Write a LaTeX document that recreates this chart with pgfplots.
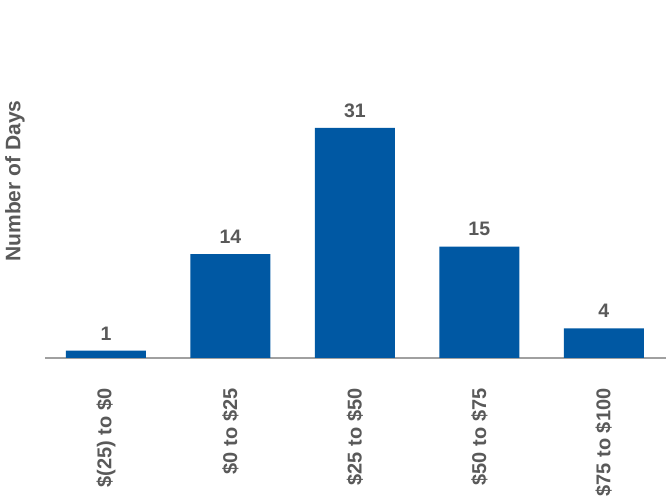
\documentclass[border=0pt]{standalone}
\usepackage{pgfplots}
\pgfplotsset{compat=1.18}
\usepackage{fontspec}
\setmainfont{Liberation Sans}
\definecolor{barblue}{RGB}{0,88,163}
\definecolor{txtgrey}{RGB}{89,89,89}
\definecolor{axgrey}{RGB}{160,160,160}
\begin{document}
\begin{tikzpicture}[x=1pt,y=1pt]
\useasboundingbox (0,0) rectangle (666,500);
\begin{axis}[
    at={(45pt,142pt)}, anchor=south west,
    scale only axis,
    width=621pt, height=354pt,
    ybar, bar width=80pt,
    xmin=-0.49, xmax=4.5,
    ymin=0, ymax=47.7,
    axis x line=bottom,
    axis y line=none,
    x axis line style={axgrey, line width=1.5pt, -},
    xtick=data,
    xticklabels={{\$(25) to \$0},{\$0 to \$25},{\$25 to \$50},{\$50 to \$75},{\$75 to \$100}},
    major tick length=0pt,
    xticklabel style={rotate=90, anchor=east, font=\fontsize{20}{23}\selectfont\bfseries, text=txtgrey, xshift=-27pt},
    ytick=\empty,
    /pgf/number format/assume math mode=true,
    nodes near coords,
    every node near coord/.append style={font=\fontsize{19.5}{22}\selectfont\bfseries, text=txtgrey, yshift=7pt},
    clip=false,
]
\addplot [draw=none, fill=barblue] coordinates {(0,1) (1,14) (2,31) (3,15) (4,4)};
\end{axis}
\node[rotate=90, font=\fontsize{21}{24}\selectfont\bfseries, text=txtgrey] at (15,319) {Number of Days};
\end{tikzpicture}
\end{document}
